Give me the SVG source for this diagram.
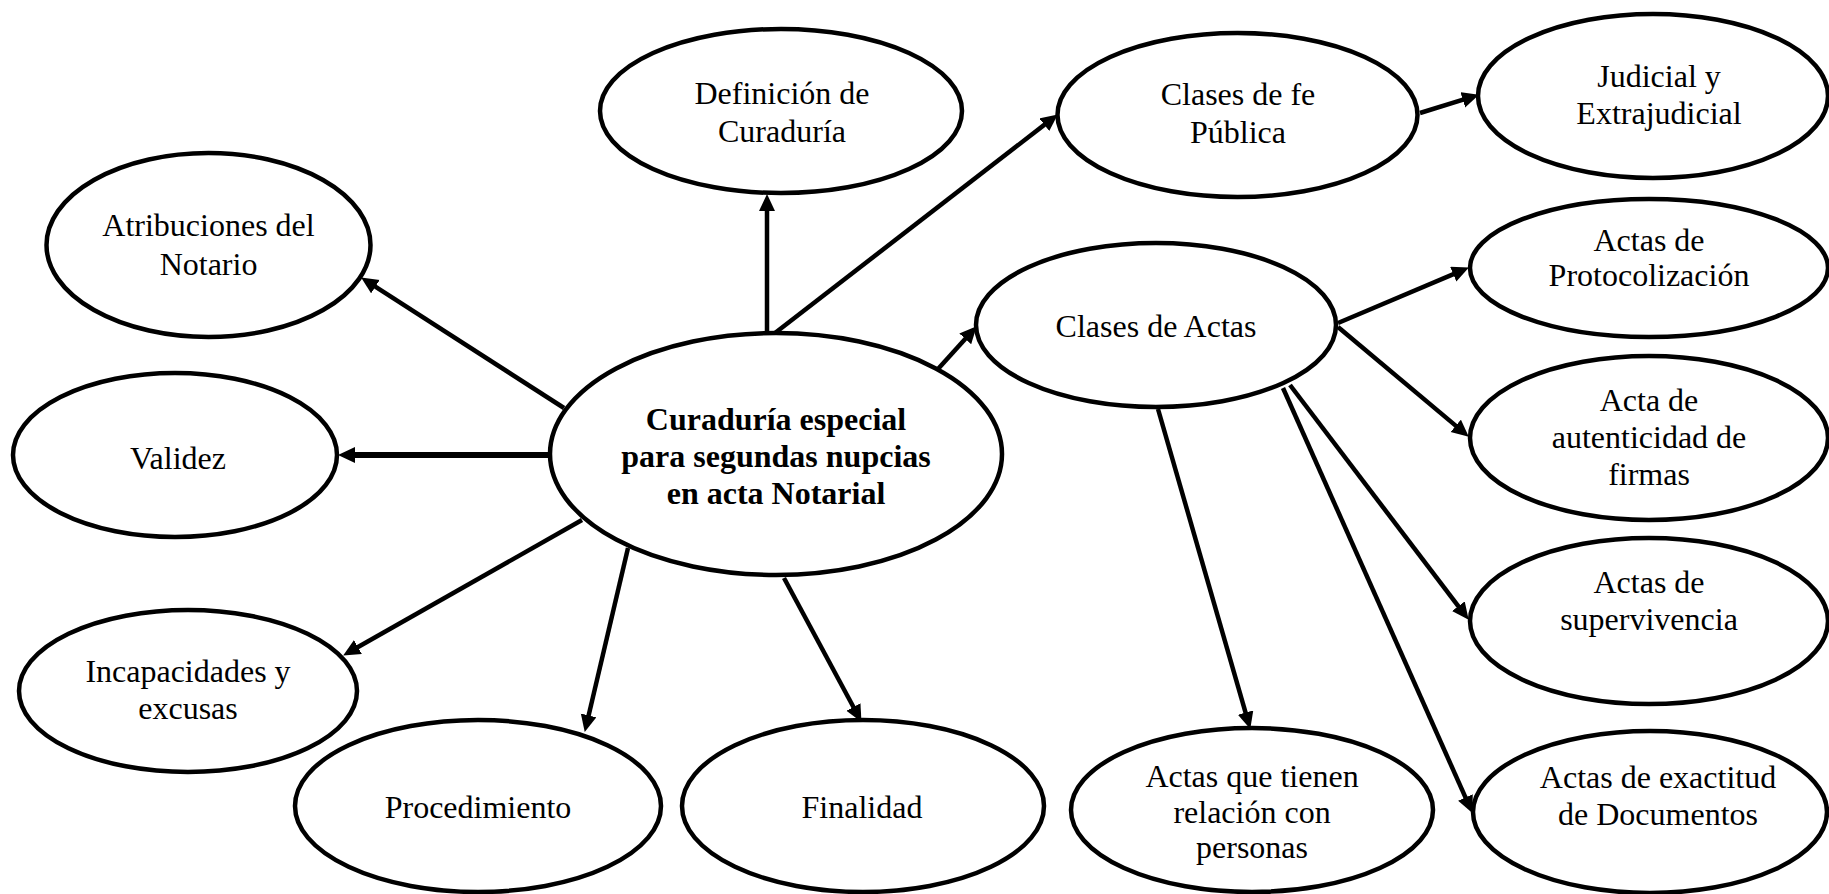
<svg xmlns="http://www.w3.org/2000/svg" width="1829" height="894" viewBox="0 0 1829 894">
<style>
.n ellipse{fill:#fff;stroke:#000;stroke-width:4.5}
.n text{font-family:"Liberation Serif","Times New Roman",serif;font-size:32px;text-anchor:middle;fill:#000}
.n text.b{font-weight:bold}
#connectors line{stroke:#000;stroke-width:4.5;marker-end:url(#ah)}
</style>
<defs>
<marker id="ah" markerUnits="userSpaceOnUse" markerWidth="18" markerHeight="18" refX="8" refY="8" orient="auto">
<path d="M0,0 L17,8 L0,16 z" fill="#000"/>
</marker>
</defs>
<rect width="1829" height="894" fill="#fff"/>
<g id="connectors">
<line x1="767" y1="333" x2="767" y2="203"/>
<line x1="564" y1="408" x2="368.7" y2="282.3"/>
<line x1="550" y1="455" x2="347" y2="455" style="stroke-width:6"/>
<line x1="775" y1="333" x2="1050.7" y2="119.9"/>
<line x1="1420" y1="113" x2="1470.4" y2="97.4"/>
<line x1="938" y1="369" x2="970.6" y2="332.9"/>
<line x1="1338" y1="323" x2="1460.6" y2="271.1"/>
<line x1="1338" y1="327" x2="1461.9" y2="430.9"/>
<line x1="1158" y1="409" x2="1247.8" y2="720.3"/>
<line x1="1290" y1="385" x2="1463.2" y2="612.6"/>
<line x1="1283" y1="388" x2="1468.7" y2="804.7"/>
<line x1="582" y1="520" x2="351" y2="651"/>
<line x1="628" y1="548" x2="586.8" y2="723.2"/>
<line x1="784" y1="578" x2="857.2" y2="714"/>
</g>
<g id="central" class="n"><ellipse cx="776" cy="454" rx="226" ry="121"/>
<text class="b" x="776" y="430">Curaduría especial</text>
<text class="b" x="776" y="467">para segundas nupcias</text>
<text class="b" x="776" y="504">en acta Notarial</text></g>
<g id="definicion" class="n"><ellipse cx="781" cy="111" rx="181" ry="82"/>
<text x="782" y="104">Definición de</text><text x="782" y="142">Curaduría</text></g>
<g id="atribuciones" class="n"><ellipse cx="208.5" cy="245" rx="162" ry="92"/>
<text x="208.5" y="236">Atribuciones del</text><text x="208.5" y="275">Notario</text></g>
<g id="validez" class="n"><ellipse cx="175" cy="455" rx="162" ry="82"/>
<text x="178" y="469">Validez</text></g>
<g id="incapacidades" class="n"><ellipse cx="188" cy="691" rx="169" ry="81"/>
<text x="188" y="682">Incapacidades y</text><text x="188" y="719">excusas</text></g>
<g id="procedimiento" class="n"><ellipse cx="478" cy="806" rx="183" ry="86"/>
<text x="478" y="818">Procedimiento</text></g>
<g id="finalidad" class="n"><ellipse cx="863" cy="806" rx="181" ry="86"/>
<text x="862" y="818">Finalidad</text></g>
<g id="clases-fe" class="n"><ellipse cx="1237.5" cy="115" rx="180" ry="82"/>
<text x="1238" y="105">Clases de fe</text><text x="1238" y="143">Pública</text></g>
<g id="judicial" class="n"><ellipse cx="1653" cy="96" rx="175" ry="82"/>
<text x="1659" y="87">Judicial y</text><text x="1659" y="124">Extrajudicial</text></g>
<g id="clases-actas" class="n"><ellipse cx="1156" cy="325" rx="180" ry="82"/>
<text x="1156" y="337">Clases de Actas</text></g>
<g id="protocolizacion" class="n"><ellipse cx="1649" cy="268" rx="179" ry="69"/>
<text x="1649" y="251">Actas de</text><text x="1649" y="286">Protocolización</text></g>
<g id="autenticidad" class="n"><ellipse cx="1649" cy="438" rx="179" ry="82"/>
<text x="1649" y="411">Acta de</text><text x="1649" y="448">autenticidad de</text><text x="1649" y="485">firmas</text></g>
<g id="supervivencia" class="n"><ellipse cx="1649" cy="621" rx="179" ry="83"/>
<text x="1649" y="593">Actas de</text><text x="1649" y="630">supervivencia</text></g>
<g id="personas" class="n"><ellipse cx="1252" cy="810" rx="181" ry="82"/>
<text x="1252" y="787">Actas que tienen</text><text x="1252" y="823">relación con</text><text x="1252" y="858">personas</text></g>
<g id="exactitud" class="n"><ellipse cx="1650" cy="812" rx="177" ry="81"/>
<text x="1658" y="788">Actas de exactitud</text><text x="1658" y="825">de Documentos</text></g>
</svg>
